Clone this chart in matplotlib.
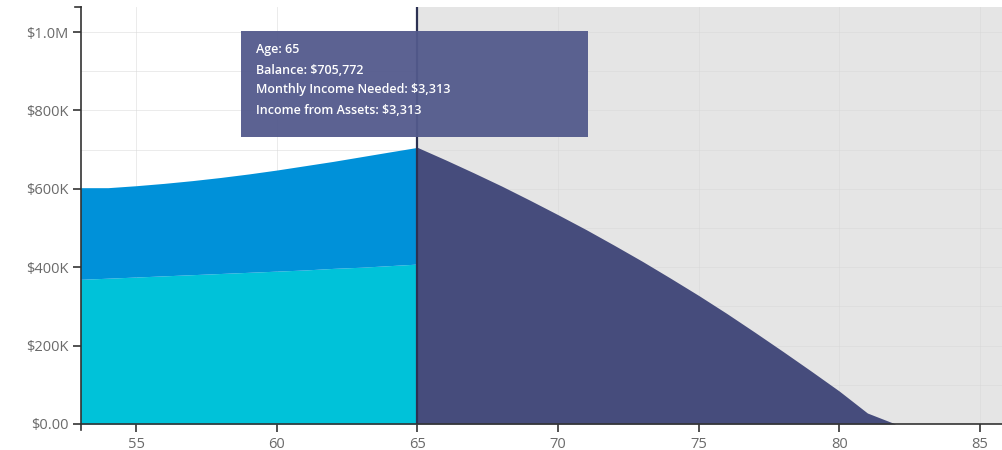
import matplotlib
matplotlib.use("Agg")
import matplotlib.pyplot as plt
from matplotlib.patches import Rectangle
from matplotlib.ticker import MultipleLocator, FuncFormatter

plt.rcParams['font.family'] = ['Open Sans', 'DejaVu Sans']

# saving years: stacked balance (lower part + total)
save_ages = [53, 54, 55, 56, 57, 58, 59, 60, 61, 62, 63, 64, 65]
save_lower = [369000, 372000, 375000, 378000, 381000, 384000, 387000,
              390000, 393000, 397000, 400000, 404000, 408000]
save_total = [603000, 603000, 608000, 614000, 621000, 629000, 638000,
              648000, 659000, 670000, 682000, 694000, 705772]

# drawdown years after retirement
draw_ages = [65, 66, 67, 68, 69, 70, 71, 72, 73, 74, 75, 76, 77, 78, 79, 80, 81, 82]
draw_balance = [705772, 674000, 641000, 607000, 571000, 534000, 496000, 456000,
                415000, 372000, 328000, 282000, 234000, 185000, 135000, 84000,
                28000, 0]

retire_age = 65
x_ticks = [55, 60, 65, 70, 75, 80, 85]
y_ticks = [0, 200000, 400000, 600000, 800000, 1000000]
tip_lines = ["Age: 65", "Balance: $705,772",
             "Monthly Income Needed: $3,313", "Income from Assets: $3,313"]

TEAL = '#00c2d9'
BLUE = '#0091d9'
NAVY = '#464c7c'
GRAY = '#e5e5e5'
TIP = '#535a8c'

W, H = 1003, 450
fig = plt.figure(figsize=(W / 100, H / 100), dpi=100)
ax = fig.add_axes([81 / W, 26 / H, (W - 81) / W, (424 - 7) / H])

XMIN, XMAX = 53.04, 85.82
YMAX = 1064000
ax.set_xlim(XMIN, XMAX)
ax.set_ylim(0, YMAX)

ax.axvspan(retire_age, XMAX, color=GRAY, zorder=0, lw=0)

ax.fill_between(save_ages, 0, save_lower, color=TEAL, lw=0, zorder=2)
ax.fill_between(save_ages, save_lower, save_total, color=BLUE, lw=0, zorder=2)
ax.fill_between(draw_ages, 0, draw_balance, color=NAVY, lw=0, zorder=2)

ax.axvline(retire_age, color='#2c3152', lw=1.6, zorder=3)

# grid
ax.set_xticks(x_ticks)
ax.set_yticks(y_ticks)
ax.yaxis.set_minor_locator(MultipleLocator(100000))
ax.grid(True, which='both', color='#d8d8d8', lw=0.6, alpha=0.6, zorder=1)
ax.set_axisbelow(True)

def money(v, pos):
    if v == 0:
        return '$0.00'
    if v >= 1000000:
        return '$%.1fM' % (v / 1000000)
    return '$%dK' % (v / 1000)

ax.yaxis.set_major_formatter(FuncFormatter(money))
ax.tick_params(which='major', direction='out', length=6, width=1.2,
               color='#333333', labelcolor='#6a6a6a', labelsize=10.5, pad=3)
ax.tick_params(which='minor', length=0)

for s in ['top', 'right']:
    ax.spines[s].set_visible(False)
for s in ['left', 'bottom']:
    ax.spines[s].set_color('#333333')
    ax.spines[s].set_linewidth(1.2)
    ax.spines[s].set_zorder(4)

# outer ticks at the axis ends
ax.plot([-6 / (W - 81), 0], [1, 1], transform=ax.transAxes, color='#333333',
        lw=1.2, clip_on=False)
ax.plot([0, 0], [0, -6 / 417], transform=ax.transAxes, color='#333333',
        lw=1.2, clip_on=False)

# tooltip
fig.patches.append(Rectangle((241 / W, 1 - 137 / H), 347 / W, 106 / H,
                             transform=fig.transFigure, color=TIP, alpha=0.95,
                             lw=0, zorder=10))
for i, t in enumerate(tip_lines):
    fig.text(256 / W, 1 - (50 + i * 20) / H, t, color='white', fontsize=9,
             fontweight='semibold', va='center', ha='left', zorder=11)

fig.savefig('out.png', dpi=100)
